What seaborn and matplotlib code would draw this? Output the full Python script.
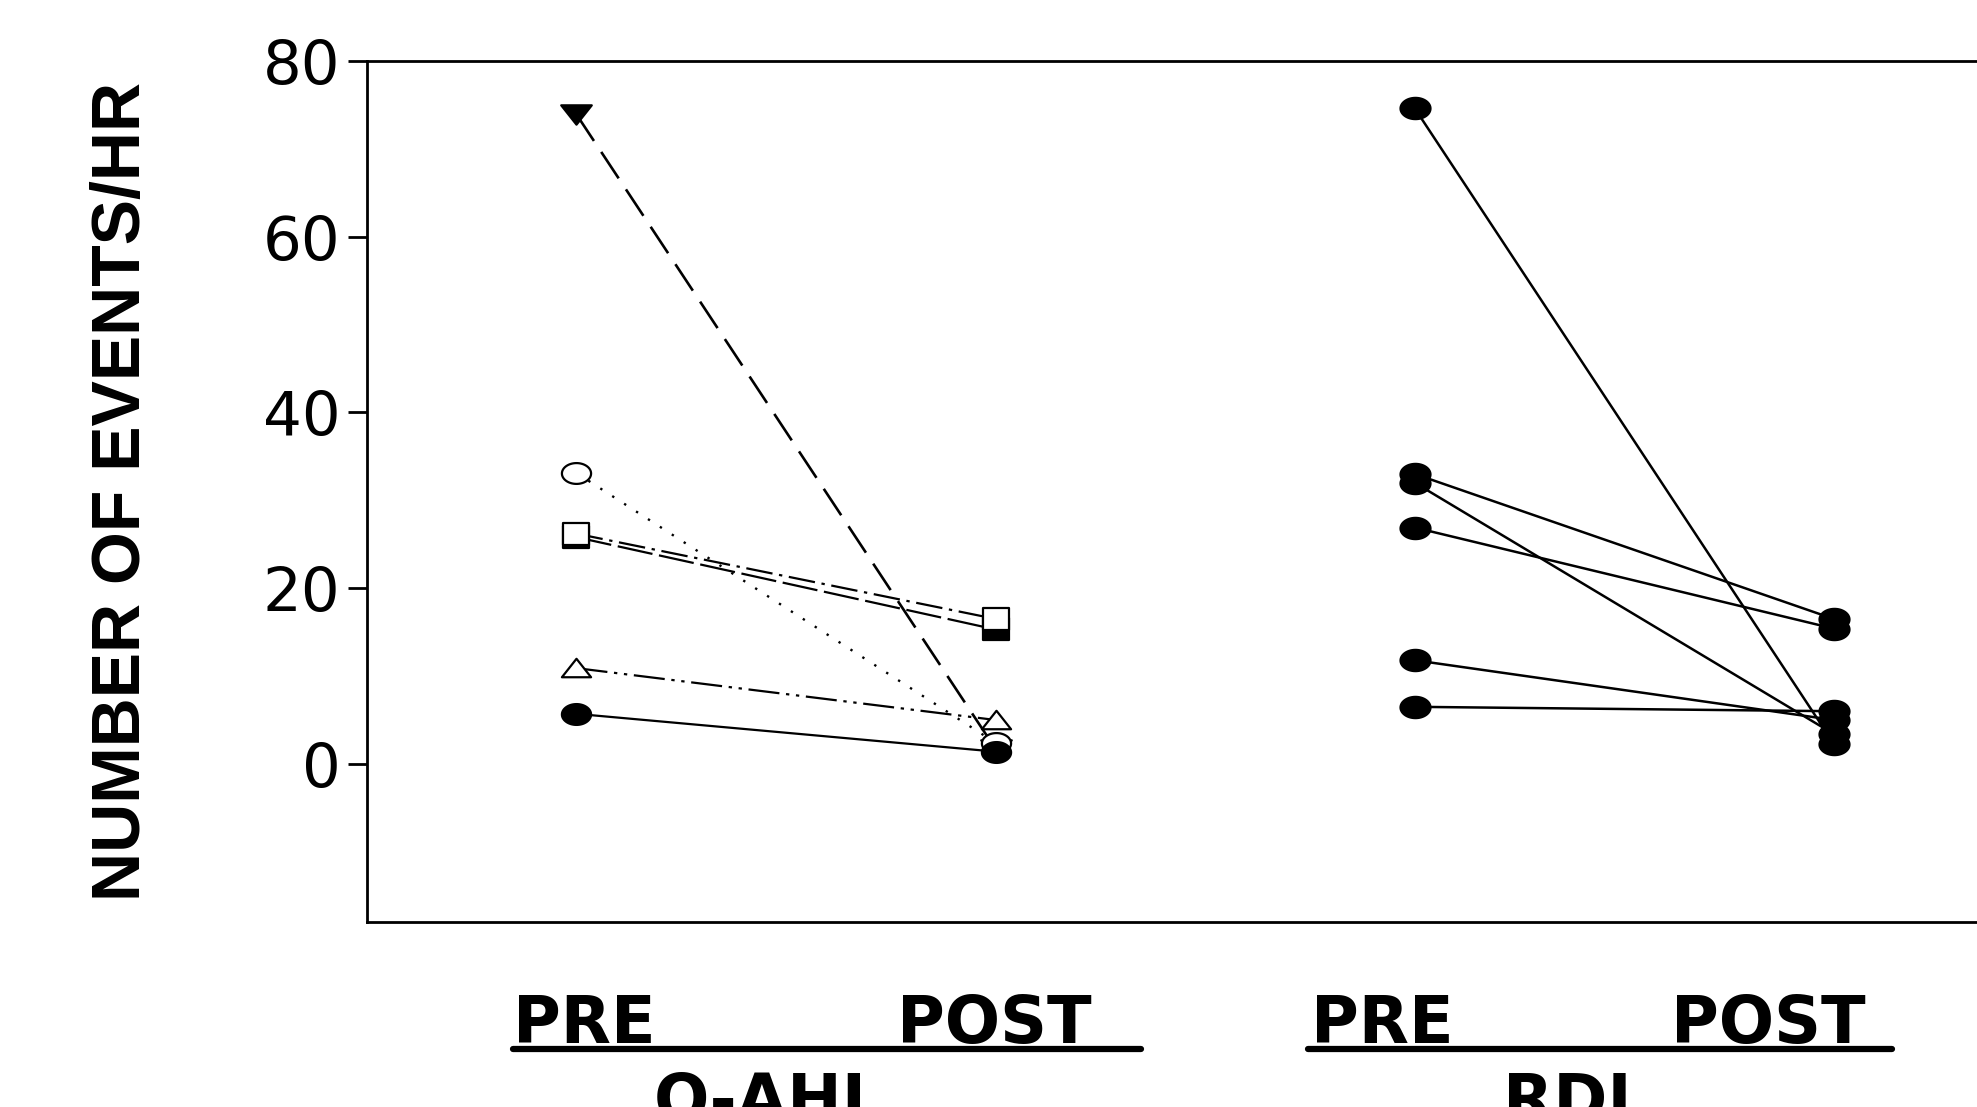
import numpy as np
import pandas as pd
import matplotlib.pyplot as plt
import seaborn as sns
from matplotlib.path import Path
from matplotlib.lines import Line2D

# values (events per hour)
positions = [1, 2]          # PRE, POST for O-AHI
rdi_positions = [3, 4]      # PRE, POST for RDI

oahi_names = ["tri_down", "open_circle", "filled_square", "open_square", "open_tri", "filled_circle"]
oahi_pre = [73.9, 33.1, 25.8, 26.2, 10.9, 5.7]
oahi_post = [1.7, 2.4, 15.3, 16.5, 5.0, 1.4]

rdi_pre = [74.6, 33.0, 32.0, 26.9, 11.8, 6.5]
rdi_post = [2.3, 16.5, 3.4, 15.4, 5.0, 6.0]

yticks = [0, 20, 40, 60, 80]
stage_labels = ["PRE", "POST"]
group_labels = ["O-AHI", "RDI"]

sns.set_style("white")
plt.rcParams["font.family"] = ["DejaVu Sans"]

# the original picture is stretched sideways, so the markers are wider than tall
SX = 1.4
t = np.linspace(0, 2 * np.pi, 64)
ellipse = Path(np.column_stack([SX * np.cos(t), np.sin(t)]), closed=True)
square = Path([(-1.2, -1), (1.2, -1), (1.2, 1), (-1.2, 1), (-1.2, -1)], closed=True)
tri_up = Path([(-1.5, -0.9), (1.5, -0.9), (0, 1.0), (-1.5, -0.9)], closed=True)
tri_down = Path([(-1.5, 0.9), (1.5, 0.9), (0, -1.0), (-1.5, 0.9)], closed=True)

styles = {
    "tri_down": dict(marker=tri_down, mfc="black", ms=22, lw=1.9, linestyle=(0, (12, 5))),
    "open_circle": dict(marker=ellipse, mfc="white", ms=21, lw=1.7, linestyle=(0, (1, 5))),
    "filled_square": dict(marker=square, mfc="black", ms=19, lw=1.6, linestyle=(0, (16, 3))),
    "open_square": dict(marker=square, mfc="white", ms=19, lw=1.6, linestyle=(0, (12, 3, 1.5, 3))),
    "open_tri": dict(marker=tri_up, mfc="white", ms=21, lw=1.6, linestyle=(0, (14, 3, 1.5, 3, 1.5, 3))),
    "filled_circle": dict(marker=ellipse, mfc="black", ms=21, lw=1.6, linestyle="-"),
}

fig = plt.figure(figsize=(19.77, 11.07), dpi=100)
ax = fig.add_axes([0.1856, 0.167, 0.848, 0.778])

# O-AHI, one style per subject
for name, pre, post in zip(oahi_names, oahi_pre, oahi_post):
    st = styles[name]
    sns.lineplot(x=positions, y=[pre, post], ax=ax, estimator=None, color="black",
                 lw=st["lw"], marker=st["marker"], ms=st["ms"], markerfacecolor=st["mfc"],
                 markeredgecolor="black", markeredgewidth=1.6, linestyle=st["linestyle"])

# RDI, all solid with filled circles
rdi = pd.DataFrame({
    "subject": list(range(len(rdi_pre))) * 2,
    "pos": [rdi_positions[0]] * len(rdi_pre) + [rdi_positions[1]] * len(rdi_post),
    "value": rdi_pre + rdi_post,
})
sns.lineplot(data=rdi, x="pos", y="value", units="subject", estimator=None, ax=ax,
             color="black", lw=1.8, marker=ellipse, ms=22, markerfacecolor="black",
             markeredgecolor="black", markeredgewidth=1.2)

ax.set_xlim(0.5, 4.5)
ax.set_ylim(-18, 80)
ax.set_xticks([])
ax.set_yticks(yticks)
ax.set_yticklabels([str(v) for v in yticks], fontsize=44)
ax.tick_params(axis="y", direction="out", length=14, width=2.0, pad=5, left=True, colors="black")
ax.set_xlabel("")
ax.set_ylabel("NUMBER OF EVENTS/HR", fontsize=49, fontweight="bold", color="black",
              family=["Liberation Sans", "DejaVu Sans"], va="center")
ax.yaxis.set_label_coords(-0.146, 0.5)
for side in ["left", "top", "bottom", "right"]:
    ax.spines[side].set_linewidth(2.0)
    ax.spines[side].set_color("black")

# stage labels under the axes, with the group underline
W, H = 1977, 1107
txt = dict(fontsize=47, fontweight="bold", ha="left", va="baseline", color="black")
for xl in [513, 897, 1311, 1671]:
    lab = stage_labels[0] if xl in (513, 1311) else stage_labels[1]
    fig.text(xl / W, 1 - 1043 / H, lab, **txt)
for x0, x1 in [(513, 1141), (1308, 1892)]:
    fig.add_artist(Line2D([x0 / W, x1 / W], [1 - 1049 / H] * 2, color="black", lw=4.5,
                          transform=fig.transFigure))
for xc, lab in zip([760, 1567], group_labels):
    fig.text(xc / W, 1 - 1121 / H, lab, fontsize=47, fontweight="bold", ha="center",
             va="baseline", color="black")

fig.savefig("out.png", dpi=100)
